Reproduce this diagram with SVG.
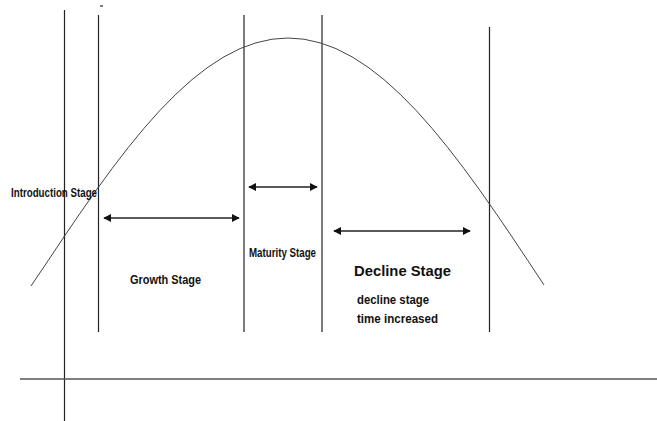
<svg xmlns="http://www.w3.org/2000/svg" width="657" height="421" viewBox="0 0 657 421">
  <style>
    .ax { stroke: #222; stroke-width: 1.2; fill: none; }
    .hax { stroke: #555; stroke-width: 1.3; fill: none; }
    .curve { stroke: #444; stroke-width: 1; fill: none; }
    .arr { stroke: #222; stroke-width: 1.6; fill: none; marker-start: url(#ah); marker-end: url(#ah); }
    .lbl { font-family: "Liberation Sans", "DejaVu Sans", sans-serif; font-weight: bold; fill: #111; }
  </style>
  <defs>
    <marker id="ah" viewBox="0 0 10 10" refX="9" refY="5" markerWidth="5" markerHeight="5" orient="auto-start-reverse" markerUnits="strokeWidth">
      <path d="M0,0 L10,5 L0,10 z" fill="#111"/>
    </marker>
  </defs>
  <rect width="657" height="421" fill="#fff"/>

  <g id="axes">
    <line class="ax" x1="64.5" y1="10" x2="64.5" y2="421"/>
    <line class="hax" x1="20" y1="379" x2="657" y2="379"/>
    <line class="ax" x1="100" y1="6" x2="103" y2="6"/>
  </g>

  <g id="stage-lines">
    <line class="ax" x1="98.5" y1="15" x2="98.5" y2="332"/>
    <line class="ax" x1="244" y1="15" x2="244" y2="332"/>
    <line class="ax" x1="322" y1="15" x2="322" y2="332"/>
    <line class="ax" x1="489.5" y1="27" x2="489.5" y2="332"/>
  </g>

  <g id="curve">
    <polyline class="curve" points="31,286 48,260.8 64,236.8 80,213.3 96,190.5 112,168.6 128,147.8 144,128.3 160,110.3 176,94.1 192,79.6 208,67.2 224,56.8 240,48.6 256,42.8 272,39.2 288,38 304,39.2 320,42.8 336,48.6 352,56.8 368,67.2 384,79.6 400,94.1 416,110.3 432,128.3 448,147.8 464,168.6 480,190.5 496,213.3 512,236.8 528,260.8 544,285"/>
  </g>

  <g id="connectors">
    <line class="arr" x1="104" y1="218" x2="239" y2="218"/>
    <line class="arr" x1="249" y1="187" x2="317" y2="187"/>
    <line class="arr" x1="334" y1="231" x2="470" y2="231"/>
  </g>

  <g id="introduction">
    <text class="lbl" x="11" y="196.5" font-size="13" textLength="86" lengthAdjust="spacingAndGlyphs">Introduction Stage</text>
  </g>
  <g id="growth">
    <text class="lbl" x="130" y="284" font-size="13" textLength="71" lengthAdjust="spacingAndGlyphs">Growth Stage</text>
  </g>
  <g id="maturity">
    <text class="lbl" x="249" y="257" font-size="13" textLength="67" lengthAdjust="spacingAndGlyphs">Maturity Stage</text>
  </g>
  <g id="decline">
    <text class="lbl" x="354" y="276" font-size="15" textLength="97" lengthAdjust="spacingAndGlyphs">Decline Stage</text>
    <text class="lbl" x="357" y="304" font-size="13.5" textLength="72" lengthAdjust="spacingAndGlyphs">decline stage</text>
    <text class="lbl" x="357" y="323" font-size="13.5" textLength="81" lengthAdjust="spacingAndGlyphs">time increased</text>
  </g>
</svg>
